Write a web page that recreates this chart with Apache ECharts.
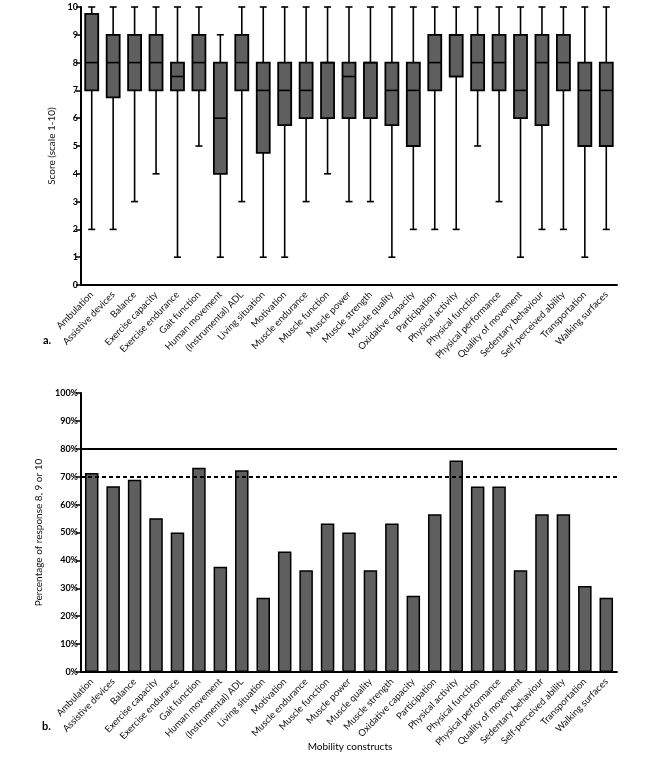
<!DOCTYPE html>
<html>
<head>
<meta charset="utf-8">
<script src="https://cdn.jsdelivr.net/npm/echarts@6/dist/echarts.min.js"></script>
<style>html,body{margin:0;padding:0;background:#fff}#c{width:669px;height:758px}</style>
</head>
<body>
<div id="c"></div>
<script>
// ---- Data ----
var boxCategories = ['Ambulation','Assistive devices','Balance','Exercise capacity','Exercise endurance','Gait function','Human movement','(Instrumental) ADL','Living situation','Motivation','Muscle endurance','Muscle function','Muscle power','Muscle strength','Muscle quality','Oxidative capacity','Participation','Physical activity','Physical function','Physical performance','Quality of movement','Sedentary behaviour','Self-perceived ability','Transportation','Walking surfaces'];
var boxMin    = [2, 2, 3, 4, 1, 5, 1, 3, 1, 1, 3, 4, 3, 3, 1, 2, 2, 2, 5, 3, 1, 2, 2, 1, 2];
var boxQ1     = [7, 6.75, 7, 7, 7, 7, 4, 7, 4.75, 5.75, 6, 6, 6, 6, 5.75, 5, 7, 7.5, 7, 7, 6, 5.75, 7, 5, 5];
var boxMedian = [8, 8, 8, 8, 7.5, 8, 6, 8, 7, 7, 7, 8, 7.5, 8, 7, 7, 8, 9, 8, 8, 7, 8, 8, 7, 7];
var boxQ3     = [9.75, 9, 9, 9, 8, 9, 8, 9, 8, 8, 8, 8, 8, 8, 8, 8, 9, 9, 9, 9, 9, 9, 9, 8, 8];
var boxMax    = [10, 10, 10, 10, 10, 10, 9, 10, 10, 10, 10, 10, 10, 10, 10, 10, 10, 10, 10, 10, 10, 10, 10, 10, 10];

var barCategories = ['Ambulation','Assistive devices','Balance','Exercise capacity','Exercise endurance','Gait function','Human movement','(Instrumental) ADL','Living situation','Motivation','Muscle endurance','Muscle function','Muscle power','Muscle quality','Muscle strength','Oxidative capacity','Participation','Physical activity','Physical function','Physical performance','Quality of movement','Sedentary behaviour','Self-perceived ability','Transportation','Walking surfaces'];
var barValues = [71.3, 66.6, 68.9, 55.1, 50.0, 73.2, 37.7, 72.3, 26.6, 43.2, 36.5, 53.2, 50.0, 36.5, 53.2, 27.3, 56.5, 75.8, 66.5, 66.5, 36.5, 56.5, 56.5, 30.8, 26.6];
var refSolid = 80;
var refDashed = 70;

var scoreTicks = {min: 0, max: 10, interval: 1};
var pctTicks = {min: 0, max: 100, interval: 10};

// ---- Chart ----
var FONT = 'Lato, "Open Sans", sans-serif';
var chart = echarts.init(document.getElementById('c'), null, {renderer: 'canvas'});

var boxData = boxCategories.map(function (c, i) {
  return [i, boxMin[i], boxQ1[i], boxMedian[i], boxQ3[i], boxMax[i]];
});

var axisLineStyle = {color: '#000', width: 2};
function catAxis(gridIndex, cats) {
  return {
    type: 'category', gridIndex: gridIndex, data: cats,
    axisLine: {lineStyle: axisLineStyle},
    axisTick: {alignWithLabel: true, length: 5, lineStyle: {color: '#000', width: 1.5}},
    axisLabel: {rotate: 46, interval: 0, fontSize: 9.5, color: '#111', fontFamily: FONT, margin: 8}
  };
}

var option = {
  animation: false,
  backgroundColor: '#fff',
  grid: [
    {left: 81, right: 52, top: 7, height: 278},
    {left: 81, right: 52, top: 393, height: 279}
  ],
  xAxis: [catAxis(0, boxCategories), catAxis(1, barCategories)],
  yAxis: [
    {
      type: 'value', gridIndex: 0, min: scoreTicks.min, max: scoreTicks.max, interval: scoreTicks.interval,
      name: 'Score (scale 1-10)', nameLocation: 'middle', nameGap: 18, nameRotate: 90,
      nameTextStyle: {fontSize: 10, color: '#111', fontFamily: FONT},
      axisLine: {show: true, lineStyle: axisLineStyle},
      axisTick: {show: true, length: 5, lineStyle: {color: '#000', width: 1.5}},
      axisLabel: {fontSize: 9, color: '#000', fontWeight: 'bold', fontFamily: FONT, margin: 3},
      splitLine: {show: false}
    },
    {
      type: 'value', gridIndex: 1, min: pctTicks.min, max: pctTicks.max, interval: pctTicks.interval,
      name: 'Percentage of response 8, 9 or 10', nameLocation: 'middle', nameGap: 30, nameRotate: 90,
      nameTextStyle: {fontSize: 10, color: '#111', fontFamily: FONT},
      axisLine: {show: true, lineStyle: axisLineStyle},
      axisTick: {show: true, length: 5, lineStyle: {color: '#000', width: 1.5}},
      axisLabel: {fontSize: 9, color: '#000', fontWeight: 'bold', fontFamily: FONT, margin: 3, formatter: '{value}%'},
      splitLine: {show: false}
    }
  ],
  series: [
    {
      type: 'custom', xAxisIndex: 0, yAxisIndex: 0, data: boxData,
      encode: {x: 0, y: [1, 2, 3, 4, 5]},
      renderItem: function (params, api) {
        var i = api.value(0);
        var pMin = api.coord([i, api.value(1)]);
        var pQ1 = api.coord([i, api.value(2)]);
        var pMed = api.coord([i, api.value(3)]);
        var pQ3 = api.coord([i, api.value(4)]);
        var pMax = api.coord([i, api.value(5)]);
        var x = pMin[0];
        var bw = 13, cw = 7;
        var ls = {stroke: '#000', lineWidth: 1.6};
        return {
          type: 'group',
          children: [
            {type: 'line', shape: {x1: x, y1: pMin[1], x2: x, y2: pQ1[1]}, style: ls},
            {type: 'line', shape: {x1: x, y1: pQ3[1], x2: x, y2: pMax[1]}, style: ls},
            {type: 'line', shape: {x1: x - cw / 2, y1: pMin[1], x2: x + cw / 2, y2: pMin[1]}, style: ls},
            {type: 'line', shape: {x1: x - cw / 2, y1: pMax[1], x2: x + cw / 2, y2: pMax[1]}, style: ls},
            {type: 'rect', shape: {x: x - bw / 2, y: pQ3[1], width: bw, height: pQ1[1] - pQ3[1]},
              style: {fill: '#5f5f5f', stroke: '#000', lineWidth: 1.8}},
            {type: 'line', shape: {x1: x - bw / 2, y1: pMed[1], x2: x + bw / 2, y2: pMed[1]}, style: ls}
          ]
        };
      }
    },
    {
      type: 'bar', xAxisIndex: 1, yAxisIndex: 1, data: barValues, barWidth: 13.5,
      itemStyle: {color: '#5f5f5f', borderColor: '#000', borderWidth: 1.5},
      markLine: {
        symbol: 'none', silent: true, label: {show: false},
        data: [
          {yAxis: refSolid, lineStyle: {color: '#000', width: 2, type: 'solid'}},
          {yAxis: refDashed, lineStyle: {color: '#000', width: 2, type: [4, 3]}}
        ]
      }
    }
  ],
  graphic: [
    {type: 'text', left: 43, top: 335, style: {text: 'a.', font: 'bold 11px ' + FONT, fill: '#000'}},
    {type: 'text', left: 42, top: 721, style: {text: 'b.', font: 'bold 11px ' + FONT, fill: '#000'}},
    {type: 'text', x: 350, y: 742, style: {text: 'Mobility constructs', font: '10px ' + FONT, fill: '#000', textAlign: 'center'}}
  ]
};
chart.setOption(option);
</script>
</body>
</html>
